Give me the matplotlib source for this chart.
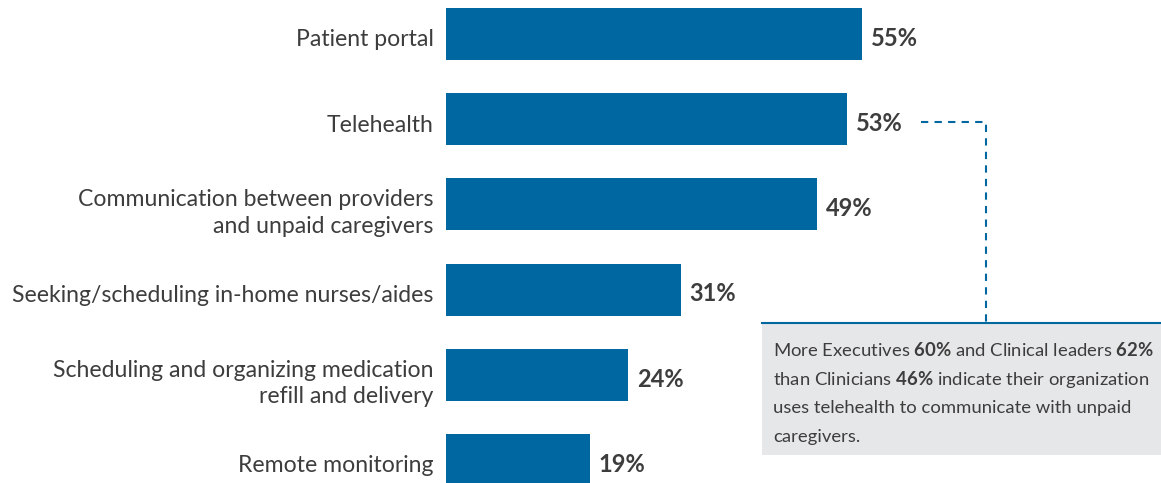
import matplotlib
matplotlib.use("Agg")
import matplotlib.pyplot as plt
from matplotlib.patches import Rectangle
from matplotlib.lines import Line2D
from matplotlib.transforms import ScaledTranslation

plt.rcParams['font.family'] = ['Lato', 'DejaVu Sans']
plt.rcParams['mathtext.fontset'] = 'custom'
plt.rcParams['mathtext.rm'] = 'Lato'
plt.rcParams['mathtext.bf'] = 'Lato:bold'

categories = [
    "Patient portal",
    "Telehealth",
    "Communication between providers\nand unpaid caregivers",
    "Seeking/scheduling in-home nurses/aides",
    "Scheduling and organizing medication\nrefill and delivery",
    "Remote monitoring",
]
values = [55, 53, 49, 31, 24, 19]

note_lines = [
    r"More Executives $\mathbf{60\%}$ and Clinical leaders $\mathbf{62\%}$",
    r"than Clinicians $\mathbf{46\%}$ indicate their organization",
    "uses telehealth to communicate with unpaid",
    "caregivers.",
]

BAR = "#0067a1"
TXT = "#3d3d3d"
W, H = 1161, 483

fig = plt.figure(figsize=(W / 100, H / 100), dpi=100)
ax = fig.add_axes([446 / W, 0, 1 - 446 / W, 1])

pos = list(range(len(values)))
ax.barh(pos, values, height=0.61, color=BAR)
ax.set_xlim(0, 715 / 7.57)
ax.set_ylim((H - 34) / 85.2, -34 / 85.2)

ax.set_yticks(pos)
ax.set_yticklabels(categories, fontsize=16.6, color=TXT, linespacing=1.32)
ax.tick_params(axis='y', length=0, pad=9)
shift = ScaledTranslation(0, -4 / 100, fig.dpi_scale_trans)
for lab in ax.get_yticklabels():
    lab.set_transform(lab.get_transform() + shift)
ax.set_xticks([])
for s in ax.spines.values():
    s.set_visible(False)

for p, v in zip(pos, values):
    ax.text(v + 1.2, p + 0.05, f"{v}%", va='center', ha='left', fontsize=17,
            fontweight='bold', color=TXT)

# callout box
bx0, bx1 = 762, W
by_top, by_bot = 323, 455
fig.add_artist(Rectangle((bx0 / W, 1 - by_bot / H), (bx1 - bx0) / W,
                         (by_bot - by_top) / H, transform=fig.transFigure,
                         facecolor="#e6e7e8", edgecolor='none'))
fig.add_artist(Line2D([bx0 / W, bx1 / W], [1 - by_top / H] * 2,
                      transform=fig.transFigure, color=BAR, lw=1.5))

# dashed connector
lx0, lx1, ly = 921, 986, 122
fig.add_artist(Line2D([lx0 / W, lx1 / W, lx1 / W],
                      [1 - ly / H, 1 - ly / H, 1 - by_top / H],
                      transform=fig.transFigure, color=BAR, lw=1.5,
                      dashes=(3.5, 3)))

for i, line in enumerate(note_lines):
    fig.text(773 / W, 1 - (350 + 29 * i) / H, line, fontsize=13.3,
             color=TXT, va='center', ha='left')

fig.savefig("out.png", dpi=100)
